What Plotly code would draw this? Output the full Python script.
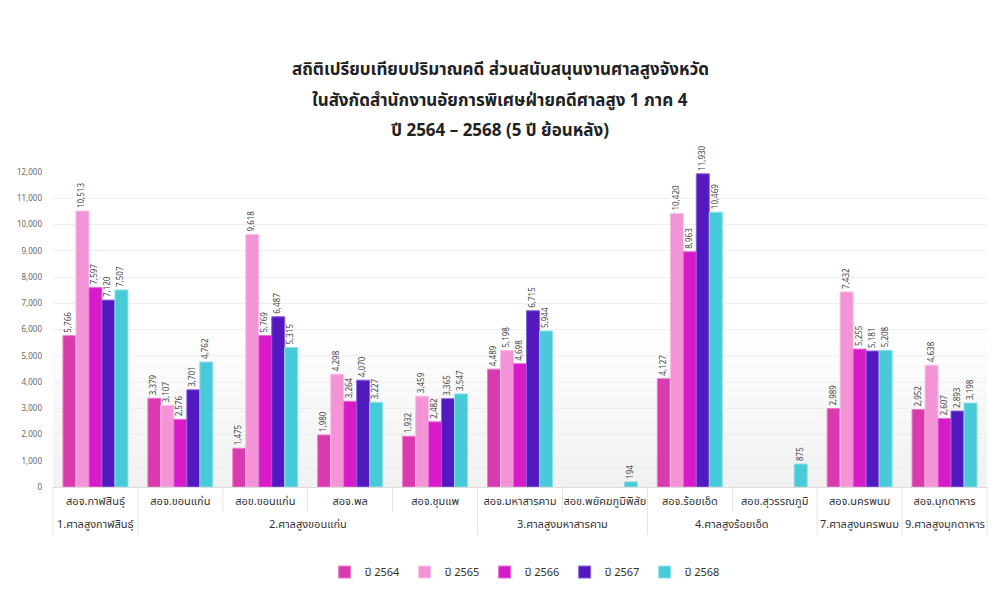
import plotly.graph_objects as go

# two-level categories: court group / office
groups = [
    "1.ศาลสูงกาฬสินธุ์",
    "2.ศาลสูงขอนแก่น", "2.ศาลสูงขอนแก่น", "2.ศาลสูงขอนแก่น", "2.ศาลสูงขอนแก่น",
    "3.ศาลสูงมหาสารคาม", "3.ศาลสูงมหาสารคาม",
    "4.ศาลสูงร้อยเอ็ด", "4.ศาลสูงร้อยเอ็ด",
    "7.ศาลสูงนครพนม",
    "9.ศาลสูงมุกดาหาร",
]
offices = [
    "สอจ.กาฬสินธุ์",
    "สอจ.ขอนแก่น", "สอข.ขอนแก่น", "สอจ.พล", "สอจ.ชุมแพ",
    "สอจ.มหาสารคาม", "สอข.พยัคฆภูมิพิสัย",
    "สอจ.ร้อยเอ็ด", "สอข.สุวรรณภูมิ",
    "สอจ.นครพนม",
    "สอจ.มุกดาหาร",
]

y2564 = [5766, 3379, 1475, 1980, 1932, 4489, None, 4127, None, 2989, 2952]
y2565 = [10513, 3107, 9618, 4298, 3459, 5198, None, 10420, None, 7432, 4638]
y2566 = [7597, 2576, 5769, 3264, 2482, 4698, None, 8963, None, 5255, 2607]
y2567 = [7120, 3701, 6487, 4070, 3365, 6715, None, 11930, None, 5181, 2893]
y2568 = [7507, 4762, 5315, 3227, 3547, 5944, 194, 10469, 875, 5208, 3198]

years = ["ปี 2564", "ปี 2565", "ปี 2566", "ปี 2567", "ปี 2568"]
series = [y2564, y2565, y2566, y2567, y2568]
colors = ["#D93BAE", "#F294D5", "#D81BC8", "#5319C0", "#48CAD8"]
edges = ["#E87BCB", "#F7BEE6", "#E86BDC", "#8A63D6", "#8EE0E8"]

title_lines = [
    "สถิติเปรียบเทียบปริมาณคดี ส่วนสนับสนุนงานศาลสูงจังหวัด",
    "ในสังกัดสำนักงานอัยการพิเศษฝ่ายคดีศาลสูง 1 ภาค 4",
    "ปี 2564 – 2568 (5 ปี ย้อนหลัง)",
]

FONT = "Tahoma, 'Noto Sans Thai', 'Noto Sans', sans-serif"
LINE = "#e3e3e3"
CX = 0.4786  # page centre in paper units

fig = go.Figure()

for name, vals, col, edge in zip(years, series, colors, edges):
    fig.add_trace(
        go.Bar(
            x=offices,
            y=vals,
            name=name,
            marker=dict(color=col, line=dict(color=edge, width=1)),
            text=[f"{v:,}" if v is not None else "" for v in vals],
            textposition="outside",
            textangle=-90,
            textfont=dict(size=8, color="#444444", family=FONT),
            constraintext="none",
            cliponaxis=False,
        )
    )

# soft grey fade at the bottom of the plot area
n_bands = 14
for i in range(n_bands):
    shade = int(242 + (255 - 242) * i / n_bands)
    fig.add_shape(
        type="rect",
        xref="x domain", yref="y",
        x0=0, x1=1,
        y0=i * 6000 / n_bands, y1=(i + 1) * 6000 / n_bands,
        fillcolor=f"rgb({shade},{shade},{shade})",
        line_width=0,
        layer="below",
    )

# separators under the axis: short ones between offices, long ones between courts
for i in range(1, len(offices)):
    long_line = groups[i] != groups[i - 1]
    fig.add_shape(
        type="line",
        xref="x", yref="paper",
        x0=i - 0.5, x1=i - 0.5,
        y0=0, y1=-0.152 if long_line else -0.079,
        line=dict(color=LINE, width=1),
    )
for edge_x in (0, 1):
    fig.add_shape(
        type="line",
        xref="x domain", yref="paper",
        x0=edge_x, x1=edge_x, y0=0, y1=-0.152,
        line=dict(color=LINE, width=1),
    )

# court (group) labels centred under their offices
seen = []
for g in groups:
    if g not in seen:
        seen.append(g)
for g in seen:
    idx = [i for i, gg in enumerate(groups) if gg == g]
    fig.add_annotation(
        text=g,
        xref="x", yref="paper",
        x=sum(idx) / len(idx), y=-0.1206,
        xanchor="center", yanchor="middle",
        showarrow=False,
        font=dict(size=11, color="#333333", family=FONT),
    )

# title as three lines with wide spacing
for line, ypos in zip(title_lines, [1.324, 1.225, 1.130]):
    fig.add_annotation(
        text=line,
        xref="paper", yref="paper",
        x=CX, y=ypos,
        xanchor="center", yanchor="middle",
        showarrow=False,
        font=dict(size=17, color="#222222", family=FONT, weight="bold"),
    )

fig.update_layout(
    barmode="group",
    bargap=0.235,
    bargroupgap=0,
    plot_bgcolor="white",
    paper_bgcolor="white",
    font=dict(family=FONT, color="#333333"),
    margin=dict(l=45, r=5, t=164, b=111, autoexpand=False),
    legend=dict(
        orientation="h",
        x=0.505, xanchor="center",
        y=-0.27, yanchor="middle",
        font=dict(size=11, color="#333333"),
        itemwidth=30,
        entrywidth=35,
        traceorder="normal",
    ),
    xaxis=dict(
        type="category",
        showline=True,
        linecolor="#dddddd",
        linewidth=1,
        ticks="",
        tickangle=0,
        ticklabelstandoff=4,
        tickfont=dict(size=11, color="#333333"),
        showgrid=False,
        automargin=False,
    ),
    yaxis=dict(
        range=[0, 12000],
        dtick=1000,
        tickformat=",",
        showgrid=True,
        gridcolor="#efefef",
        zeroline=False,
        tickfont=dict(size=8, color="#666666"),
        ticks="",
        ticklabelstandoff=10,
        automargin=False,
    ),
)

fig.write_html("out.html")
